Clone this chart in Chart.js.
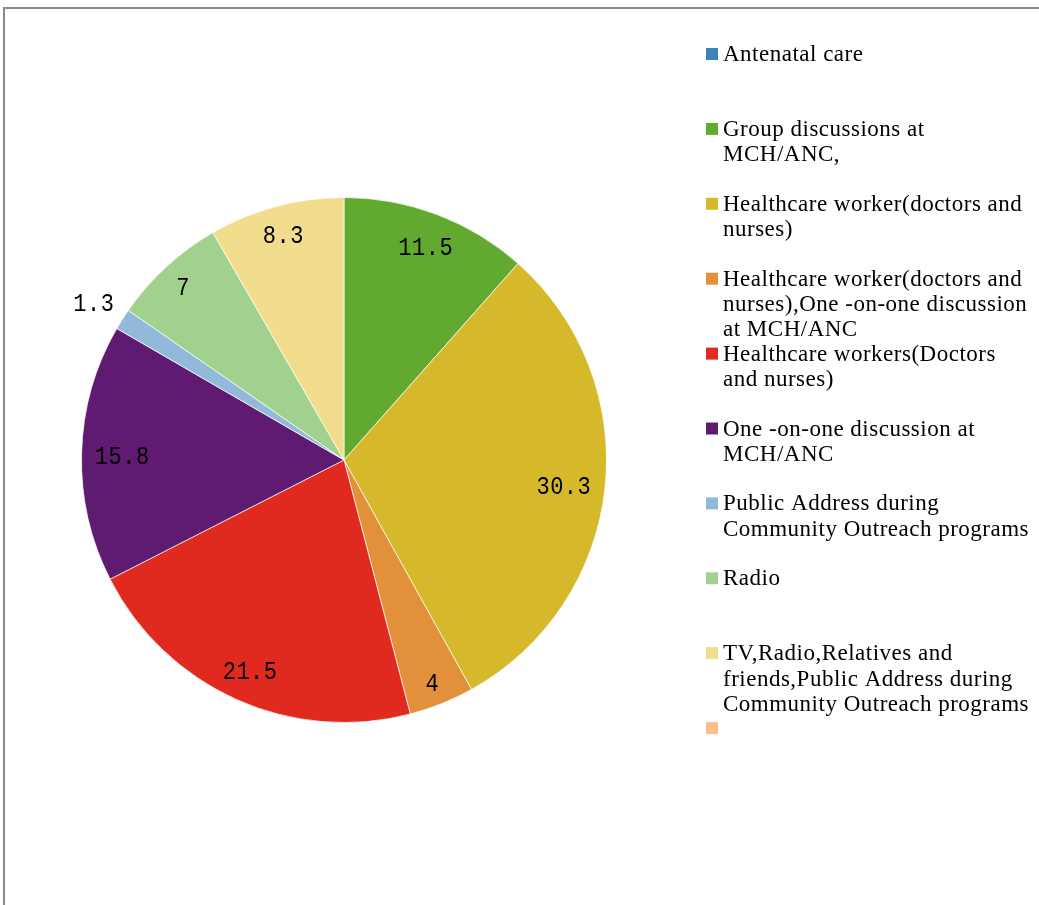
<!DOCTYPE html>
<html>
<head>
<meta charset="utf-8">
<script src="https://cdn.jsdelivr.net/npm/chart.js@4"></script>
<style>
  html, body { margin: 0; padding: 0; background: #fff; }
  #wrap { position: relative; width: 1039px; height: 905px; }
  #frame {
    position: absolute; left: 3px; top: 7px; right: 0; bottom: 0;
    border-top: 2px solid #8a8a8a; border-left: 2px solid #8a8a8a;
    pointer-events: none;
  }
</style>
</head>
<body>
<div id="wrap">
  <canvas id="pie"></canvas>
  <div id="frame"></div>
</div>
<script>
(function(){
  "use strict";

  // source categories (line breaks as shown in the legend)
  var categories = [
    ['Antenatal care'],
    ['Group discussions at', 'MCH/ANC,'],
    ['Healthcare worker(doctors and', 'nurses)'],
    ['Healthcare worker(doctors and', 'nurses),One -on-one discussion', 'at MCH/ANC'],
    ['Healthcare workers(Doctors', 'and nurses)'],
    ['One -on-one discussion at', 'MCH/ANC'],
    ['Public Address during', 'Community Outreach programs'],
    ['Radio'],
    ['TV,Radio,Relatives and', 'friends,Public Address during', 'Community Outreach programs'],
    ['']
  ];

  // percent of respondents
  var percents = [0, 11.5, 30.3, 4, 21.5, 15.8, 1.3, 7, 8.3, 0];

  var colors = [
    '#3c84b7', '#62a92f', '#d5b92b', '#e2913a', '#e02a1f',
    '#5f1b72', '#93b9da', '#a1d18f', '#f2dc8d', '#fbbf8d'
  ];

  var labelFont = '22px "Liberation Mono", monospace';
  var legendFont = '23px "Liberation Serif", "Times New Roman", serif';

  // value labels: inside near the rim, tiny slices outside
  var valueLabels = {
    id: 'valueLabels',
    afterDatasetsDraw: function(chart){
      var ctx = chart.ctx;
      var meta = chart.getDatasetMeta(0);
      var values = chart.data.datasets[0].data;
      ctx.save();
      ctx.font = labelFont;
      ctx.letterSpacing = '0.5px';
      ctx.fillStyle = '#000';
      ctx.textAlign = 'center';
      ctx.textBaseline = 'middle';
      meta.data.forEach(function(arc, i){
        var v = values[i];
        if (!v) return;
        var p = arc.getProps(['x', 'y', 'startAngle', 'endAngle', 'outerRadius'], true);
        var mid = (p.startAngle + p.endAngle) / 2;
        var txt = String(v);
        var w = ctx.measureText(txt).width, h = 20;
        var ext = Math.abs(w / 2 * Math.cos(mid)) + Math.abs(h / 2 * Math.sin(mid));
        var r = v < 2 ? p.outerRadius + 11 + ext : p.outerRadius - 13 - ext;
        ctx.save();
        ctx.translate(p.x + Math.cos(mid) * r, p.y + Math.sin(mid) * r + 3);
        ctx.scale(1, 1.2);
        ctx.fillText(txt, 0, 0);
        ctx.restore();
      });
      ctx.restore();
    }
  };

  // legend on the right, one fixed slot per category
  var sideLegend = {
    id: 'sideLegend',
    afterDraw: function(chart){
      var ctx = chart.ctx;
      var ds = chart.data.datasets[0];
      var x0 = 706, y0 = 54, slot = 74.9, lineH = 25.3;
      ctx.save();
      ctx.font = legendFont;
      ctx.letterSpacing = '0.5px';
      ctx.textBaseline = 'middle';
      chart.data.labels.forEach(function(lines, i){
        var y = y0 + i * slot;
        ctx.fillStyle = ds.backgroundColor[i];
        ctx.fillRect(x0, y - 6, 12, 12);
        ctx.fillStyle = '#000';
        lines.forEach(function(line, k){
          ctx.fillText(line, x0 + 17, y + 1 + k * lineH);
        });
      });
      ctx.restore();
    }
  };

  var canvas = document.getElementById('pie');
  canvas.width = 1039;
  canvas.height = 905;

  new Chart(canvas.getContext('2d'), {
    type: 'pie',
    data: {
      labels: categories,
      datasets: [{
        data: percents,
        backgroundColor: colors,
        borderColor: 'rgba(255,255,255,0.7)',
        borderWidth: 1,
        hoverOffset: 0
      }]
    },
    options: {
      responsive: false,
      animation: false,
      layout: { padding: { left: 81, right: 432, top: 197, bottom: 182 } },
      plugins: {
        legend: { display: false },
        tooltip: { enabled: false }
      }
    },
    plugins: [valueLabels, sideLegend]
  });
})();
</script>
</body>
</html>
